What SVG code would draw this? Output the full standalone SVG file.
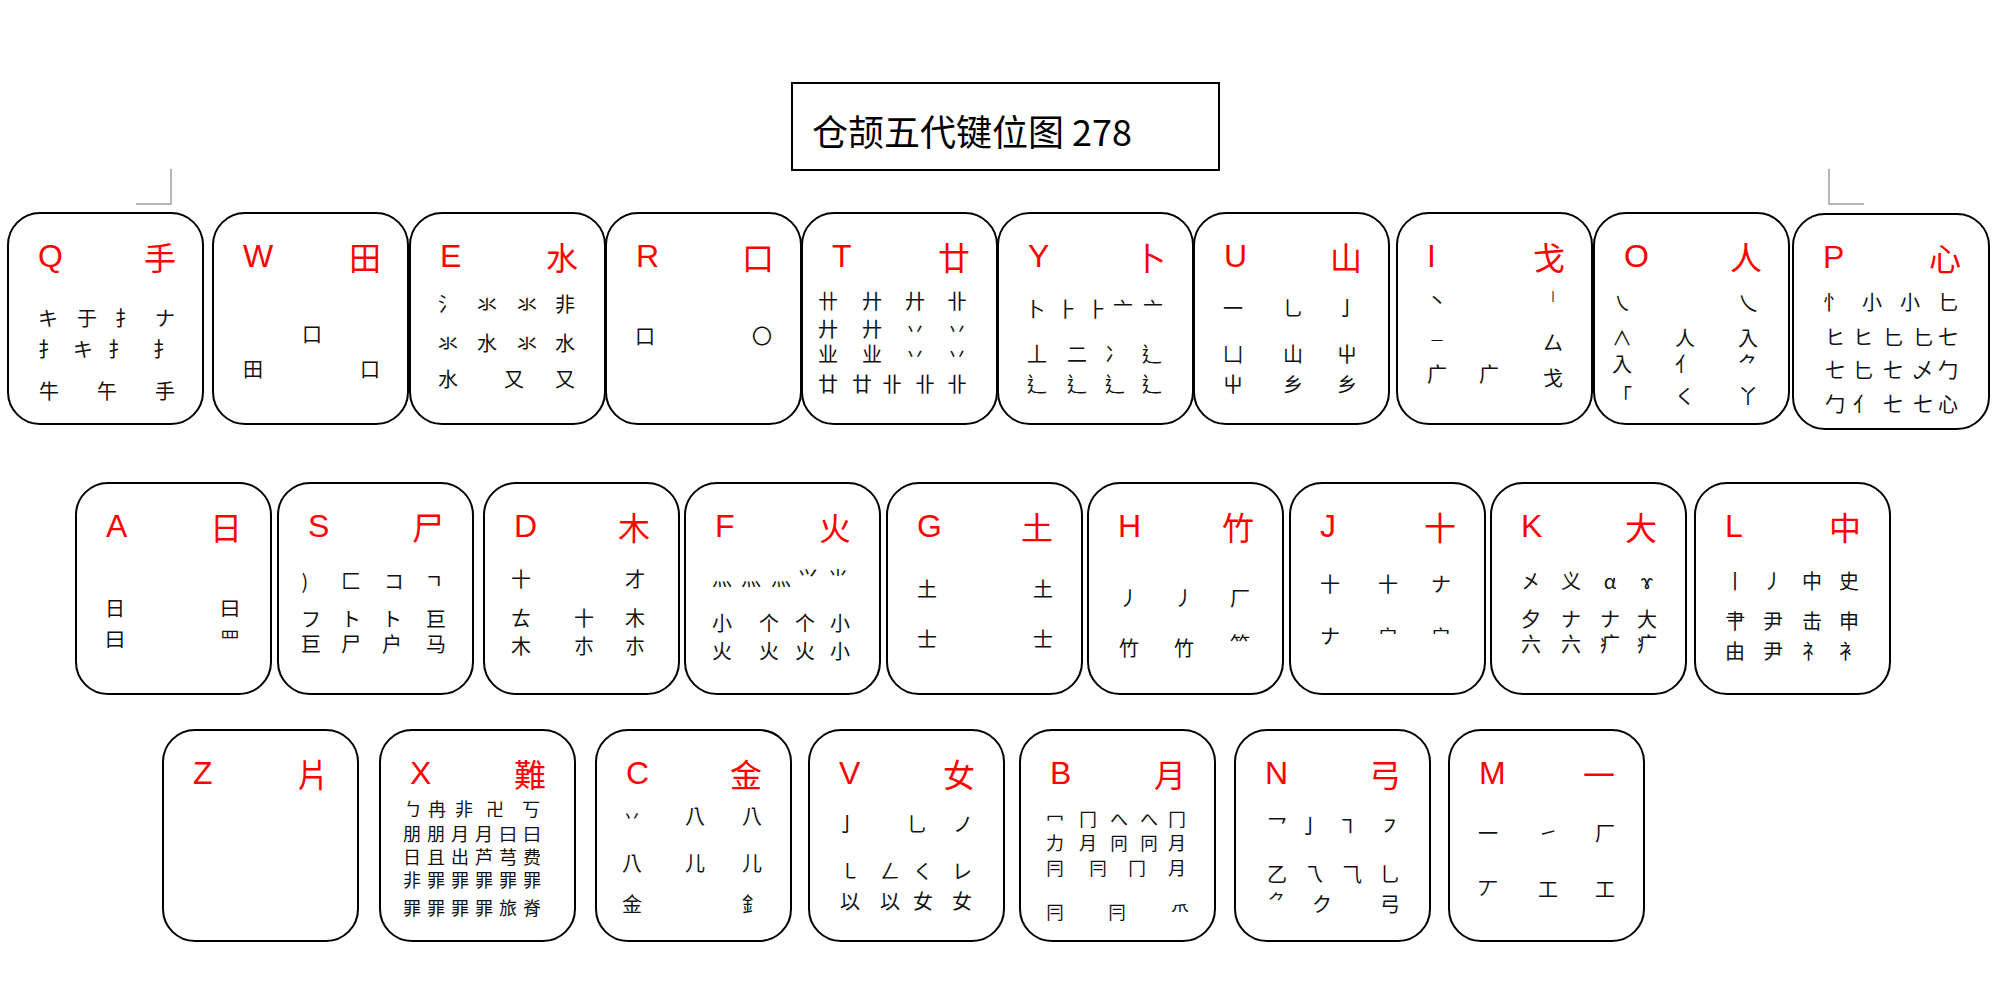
<svg xmlns="http://www.w3.org/2000/svg" width="2000" height="1000" viewBox="0 0 2000 1000">
<style>
.bg{fill:#fff}
.k{fill:#fff;stroke:#000;stroke-width:2}
.l{font-family:"Liberation Sans","DejaVu Sans",sans-serif;font-size:32px;fill:#f00;dominant-baseline:central}
.r{font-family:"Noto Sans CJK TC","Noto Sans CJK SC",sans-serif;font-size:32px;fill:#f00;text-anchor:end;dominant-baseline:central}
.g text{font-family:"Noto Sans CJK TC","Noto Sans CJK SC",sans-serif;font-size:20px;fill:#111;text-anchor:middle;dominant-baseline:central}
.g text.s{font-size:18px}
.g text.t{font-size:12px}
.g.b text{font-size:18px}
.mark{fill:none;stroke:#a0a0a0;stroke-width:1.5}
.title{font-family:"Noto Sans CJK SC","Noto Sans CJK TC",sans-serif;font-size:36px;fill:#000;dominant-baseline:central}
</style>
<rect class="bg" x="0" y="0" width="2000" height="1000"/>
<g id="title">
<rect x="792" y="83" width="427" height="87" fill="#fff" stroke="#000" stroke-width="2"/>
<text class="title" x="812" y="130">仓颉五代键位图 278</text>
</g>
<g id="marks">
<polyline class="mark" points="136,204 171,204 171,169"/>
<polyline class="mark" points="1829,169 1829,204 1864,204"/>
</g>

<g id="key-q" transform="translate(8,213)">
<rect class="k" width="195" height="211" rx="32"/>
<text class="l" x="30" y="43">Q</text><text class="r" x="168" y="43">手</text>
<g class="g">
<text x="40" y="104">キ</text><text x="79" y="104">于</text><text x="117" y="104">扌</text><text x="157" y="104">ナ</text>
<text x="40" y="135">扌</text><text x="75" y="135">キ</text><text x="110" y="135">扌</text><text x="155" y="135">扌</text>
<text x="41" y="177">牛</text><text x="99" y="177">午</text><text x="157" y="177">手</text>
</g>
</g>

<g id="key-w" transform="translate(213,213)">
<rect class="k" width="195" height="211" rx="32"/>
<text class="l" x="30" y="43">W</text><text class="r" x="168" y="43">田</text>
<g class="g">
<text x="99" y="120">口</text>
<text x="40" y="155">田</text><text x="157" y="155">口</text>
</g>
</g>

<g id="key-e" transform="translate(410,213)">
<rect class="k" width="195" height="211" rx="32"/>
<text class="l" x="30" y="43">E</text><text class="r" x="168" y="43">水</text>
<g class="g">
<text x="38" y="90">氵</text><text x="77" y="90">氺</text><text x="117" y="90">氺</text><text x="155" y="90">非</text>
<text x="38" y="129">氺</text><text x="77" y="129">水</text><text x="117" y="129">氺</text><text x="155" y="129">水</text>
<text x="38" y="165">水</text><text x="104" y="165">又</text><text x="155" y="165">又</text>
</g>
</g>

<g id="key-r" transform="translate(606,213)">
<rect class="k" width="195" height="211" rx="32"/>
<text class="l" x="30" y="43">R</text><text class="r" x="168" y="43">口</text>
<g class="g">
<text x="39" y="122">口</text><text x="156" y="122">〇</text>
</g>
</g>

<g id="key-t" transform="translate(802,213)">
<rect class="k" width="195" height="211" rx="32"/>
<text class="l" x="30" y="43">T</text><text class="r" x="168" y="43">廿</text>
<g class="g">
<text x="26" y="87">卄</text><text x="70" y="87">廾</text><text x="113" y="87">廾</text><text x="155" y="87">卝</text>
<text x="26" y="115">廾</text><text x="70" y="115">廾</text><text x="113" y="115">丷</text><text x="155" y="115">丷</text>
<text x="26" y="140">业</text><text x="70" y="140">业</text><text x="113" y="140">丷</text><text x="155" y="140">丷</text>
<text x="26" y="170">廿</text><text x="60" y="170">廿</text><text x="90" y="170">卝</text><text x="123" y="170">卝</text><text x="155" y="170">卝</text>
</g>
</g>

<g id="key-y" transform="translate(998,213)">
<rect class="k" width="195" height="211" rx="32"/>
<text class="l" x="30" y="43">Y</text><text class="r" x="168" y="43">卜</text>
<g class="g">
<text x="37" y="95">卜</text><text x="69" y="95">⺊</text><text x="99" y="95">⺊</text><text x="125" y="95">亠</text><text x="155" y="95">亠</text>
<text x="39" y="140">丄</text><text x="79" y="140">二</text><text x="117" y="140">冫</text><text x="154" y="140">辶</text>
<text x="39" y="170">辶</text><text x="79" y="170">辶</text><text x="117" y="170">辶</text><text x="154" y="170">辶</text>
</g>
</g>

<g id="key-u" transform="translate(1194,213)">
<rect class="k" width="195" height="211" rx="32"/>
<text class="l" x="30" y="43">U</text><text class="r" x="168" y="43">山</text>
<g class="g">
<text x="39" y="94">一</text><text x="99" y="94">乚</text><text x="153" y="94">亅</text>
<text x="39" y="140">凵</text><text x="99" y="140">山</text><text x="153" y="140">屮</text>
<text x="39" y="170">屮</text><text x="99" y="170">乡</text><text x="153" y="170">乡</text>
</g>
</g>

<g id="key-i" transform="translate(1397,213)">
<rect class="k" width="195" height="211" rx="32"/>
<text class="l" x="30" y="43">I</text><text class="r" x="168" y="43">戈</text>
<g class="g">
<text x="40" y="87">丶</text><text class="t" x="156" y="82">丨</text>
<text class="t" x="40" y="127">一</text><text x="156" y="129">厶</text>
<text x="40" y="160">广</text><text x="92" y="160">广</text><text x="156" y="164">戈</text>
</g>
</g>

<g id="key-o" transform="translate(1594,213)">
<rect class="k" width="195" height="211" rx="32"/>
<text class="l" x="30" y="43">O</text><text class="r" x="168" y="43">人</text>
<g class="g">
<text x="28" y="89">㇏</text><text x="154" y="89">乀</text>
<text x="28" y="124">∧</text><text x="91" y="124">人</text><text x="154" y="124">入</text>
<text x="28" y="150">入</text><text x="91" y="150">亻</text><text x="154" y="150">⺈</text>
<text x="28" y="182">「</text><text x="91" y="182">く</text><text x="154" y="182">丫</text>
</g>
</g>

<g id="key-p" transform="translate(1793,214)">
<rect class="k" width="196" height="215" rx="32"/>
<text class="l" x="30" y="43">P</text><text class="r" x="168" y="43">心</text>
<g class="g">
<text x="40" y="87">忄</text><text x="79" y="87">小</text><text x="117" y="87">小</text><text x="155" y="87">匕</text>
<text x="42" y="122">ヒ</text><text x="70" y="122">ヒ</text><text x="100" y="122">匕</text><text x="130" y="122">匕</text><text x="155" y="122">七</text>
<text x="42" y="155">七</text><text x="70" y="155">匕</text><text x="100" y="155">七</text><text x="130" y="155">乄</text><text x="155" y="155">勹</text>
<text x="42" y="189">勹</text><text x="70" y="189">亻</text><text x="100" y="189">七</text><text x="130" y="189">七</text><text x="155" y="189">心</text>
</g>
</g>

<g id="key-a" transform="translate(76,483)">
<rect class="k" width="195" height="211" rx="32"/>
<text class="l" x="30" y="43">A</text><text class="r" x="166" y="43">日</text>
<g class="g">
<text x="39" y="124">日</text><text x="154" y="124">曰</text>
<text x="39" y="155">曰</text><text x="154" y="155">罒</text>
</g>
</g>

<g id="key-s" transform="translate(278,483)">
<rect class="k" width="195" height="211" rx="32"/>
<text class="l" x="30" y="43">S</text><text class="r" x="166" y="43">尸</text>
<g class="g">
<text x="27" y="97">)</text><text x="73" y="97">匚</text><text x="116" y="97">コ</text><text x="156" y="97">ㄱ</text>
<text x="33" y="135">フ</text><text x="73" y="135">ト</text><text x="114" y="135">ト</text><text x="158" y="135">巨</text>
<text x="33" y="160">巨</text><text x="73" y="160">尸</text><text x="114" y="160">户</text><text x="158" y="160">马</text>
</g>
</g>

<g id="key-d" transform="translate(484,483)">
<rect class="k" width="195" height="211" rx="32"/>
<text class="l" x="30" y="43">D</text><text class="r" x="166" y="43">木</text>
<g class="g">
<text x="37" y="95">十</text><text x="151" y="95">才</text>
<text x="37" y="134">ㄊ</text><text x="100" y="134">十</text><text x="151" y="134">木</text>
<text x="37" y="162">木</text><text x="100" y="162">朩</text><text x="151" y="162">朩</text>
</g>
</g>

<g id="key-f" transform="translate(685,483)">
<rect class="k" width="195" height="211" rx="32"/>
<text class="l" x="30" y="43">F</text><text class="r" x="166" y="43">火</text>
<g class="g">
<text x="37" y="94">灬</text><text x="66" y="94">灬</text><text x="96" y="94">灬</text><text x="123" y="94">⺍</text><text x="153" y="94">⺌</text>
<text x="37" y="139">小</text><text x="84" y="139">个</text><text x="120" y="139">个</text><text x="155" y="139">小</text>
<text x="37" y="167">火</text><text x="84" y="167">火</text><text x="120" y="167">火</text><text x="155" y="167">小</text>
</g>
</g>

<g id="key-g" transform="translate(887,483)">
<rect class="k" width="195" height="211" rx="32"/>
<text class="l" x="30" y="43">G</text><text class="r" x="166" y="43">土</text>
<g class="g">
<text x="40" y="105">土</text><text x="156" y="105">土</text>
<text x="40" y="155">士</text><text x="156" y="155">士</text>
</g>
</g>

<g id="key-h" transform="translate(1088,483)">
<rect class="k" width="195" height="211" rx="32"/>
<text class="l" x="30" y="43">H</text><text class="r" x="166" y="43">竹</text>
<g class="g">
<text x="41" y="114">丿</text><text x="96" y="114">丿</text><text x="152" y="114">厂</text>
<text x="41" y="164">竹</text><text x="96" y="164">竹</text><text x="152" y="160">⺮</text>
</g>
</g>

<g id="key-j" transform="translate(1290,483)">
<rect class="k" width="195" height="211" rx="32"/>
<text class="l" x="30" y="43">J</text><text class="r" x="166" y="43">十</text>
<g class="g">
<text x="40" y="100">十</text><text x="98" y="100">十</text><text x="151" y="100">ナ</text>
<text x="40" y="152">ナ</text><text class="s" x="98" y="152">宀</text><text class="s" x="151" y="152">宀</text>
</g>
</g>

<g id="key-k" transform="translate(1491,483)">
<rect class="k" width="195" height="211" rx="32"/>
<text class="l" x="30" y="43">K</text><text class="r" x="166" y="43">大</text>
<g class="g">
<text x="40" y="97">㐅</text><text x="80" y="97">义</text><text x="119" y="97">α</text><text x="156" y="97">ɤ</text>
<text x="40" y="135">夕</text><text x="80" y="135">ナ</text><text x="119" y="135">ナ</text><text x="156" y="135">大</text>
<text x="40" y="160">六</text><text x="80" y="160">六</text><text x="119" y="160">疒</text><text x="156" y="160">疒</text>
</g>
</g>

<g id="key-l" transform="translate(1695,483)">
<rect class="k" width="195" height="211" rx="32"/>
<text class="l" x="30" y="43">L</text><text class="r" x="166" y="43">中</text>
<g class="g">
<text x="40" y="97">丨</text><text x="78" y="97">丿</text><text x="117" y="97">中</text><text x="154" y="97">史</text>
<text x="40" y="137">⺺</text><text x="78" y="137">尹</text><text x="117" y="137">击</text><text x="154" y="137">申</text>
<text x="40" y="167">由</text><text x="78" y="167">尹</text><text x="117" y="167">礻</text><text x="154" y="167">衤</text>
</g>
</g>

<g id="key-z" transform="translate(163,730)">
<rect class="k" width="195" height="211" rx="32"/>
<text class="l" x="30" y="43">Z</text><text class="r" x="166" y="43">片</text>
</g>

<g id="key-x" transform="translate(380,730)">
<rect class="k" width="195" height="211" rx="32"/>
<text class="l" x="30" y="43">X</text><text class="r" x="166" y="43">難</text>
<g class="g">
<text class="s" x="33" y="78">ㄅ</text><text class="s" x="57" y="78">冉</text><text class="s" x="84" y="78">非</text><text class="s" x="115" y="78">卍</text><text class="s" x="151" y="78">丂</text>
<text class="s" x="32" y="103">朋</text><text class="s" x="56" y="103">朋</text><text class="s" x="80" y="103">月</text><text class="s" x="104" y="103">月</text><text class="s" x="128" y="103">曰</text><text class="s" x="152" y="103">曰</text>
<text class="s" x="32" y="126">日</text><text class="s" x="56" y="126">且</text><text class="s" x="80" y="126">出</text><text class="s" x="104" y="126">芦</text><text class="s" x="128" y="126">芎</text><text class="s" x="152" y="126">费</text>
<text class="s" x="32" y="149">非</text><text class="s" x="56" y="149">罪</text><text class="s" x="80" y="149">罪</text><text class="s" x="104" y="149">罪</text><text class="s" x="128" y="149">罪</text><text class="s" x="152" y="149">罪</text>
<text class="s" x="32" y="177">罪</text><text class="s" x="56" y="177">罪</text><text class="s" x="80" y="177">罪</text><text class="s" x="104" y="177">罪</text><text class="s" x="128" y="177">旅</text><text class="s" x="152" y="177">脊</text>
</g>
</g>

<g id="key-c" transform="translate(596,730)">
<rect class="k" width="195" height="211" rx="32"/>
<text class="l" x="30" y="43">C</text><text class="r" x="166" y="43">金</text>
<g class="g">
<text class="s" x="36" y="85">丷</text><text x="99" y="85">八</text><text x="156" y="85">八</text>
<text x="36" y="132">八</text><text x="99" y="132">儿</text><text x="156" y="132">儿</text>
<text x="36" y="173">金</text><text x="156" y="173">釒</text>
</g>
</g>

<g id="key-v" transform="translate(809,730)">
<rect class="k" width="195" height="211" rx="32"/>
<text class="l" x="30" y="43">V</text><text class="r" x="166" y="43">女</text>
<g class="g">
<text x="38" y="93">亅</text><text x="108" y="93">乚</text><text x="154" y="93">ノ</text>
<text x="41" y="140">㇄</text><text x="81" y="140">ㄥ</text><text x="114" y="140">く</text><text x="153" y="140">レ</text>
<text x="41" y="170">以</text><text x="81" y="170">以</text><text x="114" y="170">女</text><text x="153" y="170">女</text>
</g>
</g>

<g id="key-b" transform="translate(1020,730)">
<rect class="k" width="195" height="211" rx="32"/>
<text class="l" x="30" y="43">B</text><text class="r" x="166" y="43">月</text>
<g class="g b">
<text x="35" y="88">冖</text><text x="68" y="88">冂</text><text x="99" y="88">へ</text><text x="129" y="88">へ</text><text x="157" y="88">冂</text>
<text x="35" y="112">力</text><text x="68" y="112">月</text><text x="99" y="112">冋</text><text x="129" y="112">冋</text><text x="157" y="112">月</text>
<text x="35" y="137">冃</text><text x="78" y="137">冃</text><text x="117" y="137">冂</text><text x="157" y="137">月</text>
<text x="35" y="181">冃</text><text x="97" y="181">冃</text><text x="160" y="181">⺥</text>
</g>
</g>

<g id="key-n" transform="translate(1235,730)">
<rect class="k" width="195" height="211" rx="32"/>
<text class="l" x="30" y="43">N</text><text class="r" x="166" y="43">弓</text>
<g class="g">
<text x="42" y="95">乛</text><text x="75" y="95">亅</text><text x="112" y="95">㇕</text><text x="155" y="95">㇇</text>
<text x="42" y="143">乙</text><text x="78" y="143">乁</text><text x="117" y="143">⺄</text><text x="155" y="143">⺃</text>
<text class="s" x="42" y="170">⺈</text><text x="87" y="173">ク</text><text x="155" y="173">弓</text>
</g>
</g>

<g id="key-m" transform="translate(1449,730)">
<rect class="k" width="195" height="211" rx="32"/>
<text class="l" x="30" y="43">M</text><text class="r" x="166" y="43">一</text>
<g class="g">
<text x="39" y="102">一</text><text x="99" y="102">㇀</text><text x="156" y="102">厂</text>
<text x="39" y="158">丆</text><text x="99" y="158">工</text><text x="156" y="158">工</text>
</g>
</g>

<g id="connectors"/>
</svg>
